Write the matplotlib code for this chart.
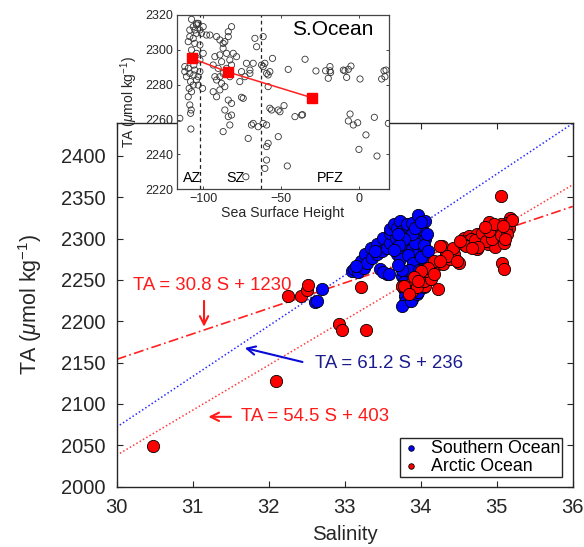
import matplotlib
matplotlib.use("Agg")
import matplotlib.pyplot as plt
import numpy as np

plt.rcParams['font.family'] = ['Liberation Sans', 'DejaVu Sans']
plt.rcParams['mathtext.fontset'] = 'custom'
plt.rcParams['mathtext.rm'] = 'Liberation Sans'
plt.rcParams['mathtext.it'] = 'Liberation Sans:italic'

# ------------------------------------------------------------
# 主图数据: 盐度 vs 总碱度
# ------------------------------------------------------------
so_sal = [32.61, 32.63, 32.70, 33.10, 33.12, 33.18, 33.21, 33.25,
          33.27, 33.30, 33.34, 33.36, 33.43, 33.43, 33.49, 33.51,
          33.56, 33.60, 33.60, 33.60, 33.65, 33.67, 33.69, 33.73,
          33.76, 33.82, 33.82, 33.89, 33.97, 33.95, 34.02, 34.06,
          34.06, 33.84, 33.80, 33.89, 33.95, 33.69, 33.73, 33.56,
          33.47, 33.51, 33.58, 33.76, 33.78, 33.78, 33.80, 33.80,
          33.76, 33.89, 33.87, 33.95, 33.97, 34.04, 34.02, 34.09,
          34.06, 34.04, 33.92, 33.88, 33.78, 33.72, 33.65, 33.83,
          33.90, 33.85, 33.98, 34.00, 34.05, 34.08, 34.10, 33.70,
          33.93, 34.00, 33.40, 33.15, 33.82, 33.90, 33.75, 33.70]
so_ta = [2223, 2225, 2239, 2261, 2263, 2259, 2273, 2265,
         2281, 2271, 2289, 2277, 2281, 2293, 2285, 2301,
         2289, 2295, 2307, 2311, 2317, 2301, 2313, 2321,
         2309, 2315, 2317, 2319, 2329, 2305, 2311, 2321,
         2299, 2297, 2289, 2287, 2281, 2281, 2275, 2257,
         2263, 2259, 2257, 2255, 2247, 2239, 2231, 2223,
         2219, 2227, 2225, 2233, 2235, 2241, 2255, 2267,
         2275, 2287, 2295, 2305, 2300, 2292, 2286, 2280,
         2270, 2262, 2262, 2278, 2292, 2305, 2285, 2305,
         2313, 2320, 2285, 2267, 2242, 2250, 2262, 2268]

ao_sal = [30.48, 32.10, 32.26, 32.42, 32.50, 32.52, 32.93, 32.97,
          33.28, 33.22, 33.76, 33.87, 34.00, 34.09, 34.06, 33.89,
          33.95, 34.04, 34.13, 34.23, 34.06, 34.19, 34.17, 34.30,
          34.39, 34.50, 34.33, 34.44, 34.28, 34.42, 34.35, 34.48,
          34.26, 34.09, 34.17, 34.00, 33.91, 33.78, 33.97, 34.57,
          34.63, 34.74, 34.88, 34.96, 35.05, 35.14, 34.83, 34.92,
          35.03, 34.68, 35.09, 35.07, 35.09, 35.05, 35.18, 35.14,
          34.79, 34.88, 34.70, 34.74, 35.01, 35.09, 35.16, 35.05,
          34.92, 34.83, 34.61, 34.26, 34.95, 35.00, 34.85, 34.78,
          35.12, 34.66, 35.20, 34.98, 35.10, 34.90, 34.55, 33.85,
          34.60, 34.72, 34.80, 34.86, 34.94, 35.02, 35.06, 35.13,
          34.76, 34.90, 34.97, 35.08, 34.67, 34.84, 35.11, 34.52]
ao_ta = [2049, 2128, 2230, 2230, 2238, 2244, 2197, 2189,
         2189, 2241, 2243, 2245, 2251, 2255, 2243, 2237,
         2241, 2249, 2251, 2239, 2261, 2267, 2273, 2269,
         2275, 2271, 2281, 2281, 2291, 2289, 2279, 2273,
         2273, 2265, 2257, 2261, 2253, 2243, 2249, 2301,
         2303, 2305, 2311, 2313, 2315, 2317, 2299, 2295,
         2299, 2293, 2307, 2271, 2263, 2351, 2325, 2319,
         2301, 2293, 2293, 2287, 2297, 2301, 2313, 2317,
         2315, 2309, 2297, 2291, 2305, 2308, 2303, 2296,
         2310, 2299, 2322, 2290, 2295, 2320, 2293, 2233,
         2291, 2298, 2307, 2297, 2300, 2312, 2304, 2306,
         2290, 2309, 2318, 2315, 2288, 2314, 2300, 2297]

# 拟合线: 斜率, 截距
fit_slope = [30.8, 61.2, 54.5]
fit_icpt = [1230, 236, 403]
fit_labels = ['TA = 30.8 S + 1230', 'TA = 61.2 S + 236', 'TA = 54.5 S + 403']

# ------------------------------------------------------------
# 插图数据: 海表高度 vs TA (南大洋)
# ------------------------------------------------------------
ssh = [-115.0, -107.9, -108.6, -107.7, -108.1, -109.6, -107.5, -109.0,
       -106.4, -108.1, -110.7, -108.6, -106.0, -104.3, -103.2, -105.4,
       -102.1, -111.8, -109.6, -100.4, -108.6, -106.4, -104.3, -103.2,
       -100.0, -97.9, -101.1, -104.3, -106.4, -108.6, -105.4, -102.1,
       -100.0, -107.5, -104.3, -102.1, -95.7, -105.4, -102.1, -109.6,
       -106.0, -111.8, -103.2, -107.5, -104.3,
       -91.4, -89.3, -86.1, -83.9, -81.8, -83.9, -87.2, -87.2,
       -89.3, -92.5, -85.0, -82.9, -81.8, -85.0, -87.2, -89.3,
       -91.4, -88.2, -86.1, -89.3, -93.6, -91.4, -83.9, -81.8,
       -86.1, -83.9, -81.8, -82.9, -87.2, -71.1, -72.6, -75.4,
       -74.3, -76.5, -73.2, -70.0, -70.0, -67.9, -72.2, -66.8,
       -65.7, -62.5, -61.5, -59.3, -57.2, -58.3, -57.2, -56.1,
       -69.0, -67.9, -64.7, -61.5, -59.3, -58.3, -59.3, -59.3,
       -60.4, -51.8, -51.8, -45.4, -61.5, -93.6, -83.9, -82.9,
       -90.4, -88.2, -80.7, -92.5, -78.6, -75.4,
       -50.7, -48.1, -46.0, -41.1, -36.8, -36.2, -34.6, -27.6,
       -21.4, -18.6, -18.6, -18.2, -19.7, -10.0, -9.0, -6.8,
       -5.1, -7.9, 0.7, -5.7, -6.8, -3.6, -0.8, 4.5,
       0.0, 9.9, 11.6, 18.9, 14.6, 16.1, 17.4, 16.7,
       -60.4, -55.5, -58.3]
ssh_ta = [2260.7, 2254.6, 2268.4, 2265.5, 2263.6, 2273.1, 2276.0, 2277.9,
          2279.8, 2281.8, 2284.6, 2286.5, 2285.6, 2282.7, 2284.6, 2288.4,
          2287.5, 2287.5, 2289.4, 2277.9, 2311.4, 2313.3, 2314.3, 2315.2,
          2313.3, 2308.5, 2309.5, 2309.5, 2306.6, 2307.6, 2303.7, 2302.8,
          2298.0, 2299.9, 2298.0, 2294.2, 2308.5, 2311.4, 2311.4, 2304.7,
          2291.3, 2290.4, 2279.8, 2317.5, 2315.2,
          2307.6, 2305.7, 2304.7, 2307.6, 2313.3, 2310.4, 2303.7, 2300.9,
          2297.1, 2296.1, 2298.0, 2294.2, 2291.3, 2289.4, 2286.5, 2284.6,
          2282.7, 2280.8, 2278.9, 2277.0, 2276.0, 2273.1, 2271.2, 2269.3,
          2265.5, 2261.7, 2262.6, 2256.9, 2253.1, 2249.2, 2227.2, 2272.8,
          2272.2, 2281.8, 2284.6, 2286.5, 2288.4, 2292.3, 2292.3, 2306.6,
          2301.8, 2291.3, 2290.4, 2286.5, 2287.5, 2278.9, 2266.5, 2265.5,
          2256.9, 2257.8, 2255.9, 2257.8, 2256.9, 2246.4, 2244.5, 2236.8,
          2232.0, 2265.5, 2250.2, 2288.8, 2307.6, 2291.3, 2287.5, 2284.6,
          2289.4, 2293.2, 2298.0, 2284.6, 2296.1, 2287.5,
          2264.5, 2268.0, 2233.4, 2261.7, 2262.6, 2262.8, 2294.6, 2287.9,
          2288.0, 2290.4, 2288.0, 2287.0, 2283.7, 2288.4, 2288.0, 2288.8,
          2290.7, 2284.2, 2283.3, 2263.2, 2259.2, 2256.9, 2258.2, 2251.2,
          2242.9, 2261.3, 2239.1, 2257.8, 2283.3, 2288.0, 2288.4, 2284.6,
          2292.3, 2295.1, 2285.6]

zone_ssh = [-107.4, -84.1, -30.4]     # 分区均值
zone_ta = [2295.2, 2287.3, 2272.6]
zone_bounds = [-102, -63]
zone_names = ['AZ', 'SZ', 'PFZ']

INK = '#262626'

fig = plt.figure(figsize=(5.84, 5.47), dpi=100)

# ---------------- 主图 ----------------
ax = fig.add_axes([0.1997, 0.1102, 0.781, 0.6654])
s_line = np.array([30, 36])
ax.plot(s_line, fit_slope[1] * s_line + fit_icpt[1], color='#2a2aff',
        linestyle=(0, (1, 1.5)), linewidth=1.1, zorder=1)
ax.plot(s_line, fit_slope[2] * s_line + fit_icpt[2], color='#ff3a3a',
        linestyle=(0, (1, 1.5)), linewidth=1.1, zorder=1)
ax.plot(s_line, fit_slope[0] * s_line + fit_icpt[0], color='#ff2020',
        linestyle=(0, (6, 2, 1, 2)), linewidth=1.2, zorder=1)

ax.scatter(so_sal, so_ta, s=78, c='#0000ff', edgecolors='black',
           linewidths=0.6, zorder=3, label='Southern Ocean')
ax.scatter(ao_sal, ao_ta, s=78, c='#ff0000', edgecolors='black',
           linewidths=0.6, zorder=4, label='Arctic Ocean')

ax.set_xlim(30, 36)
ax.set_ylim(2000, 2440)
ax.set_xticks(np.arange(30, 37, 1))
ax.set_yticks(np.arange(2000, 2401, 50))
ax.tick_params(direction='in', length=4, width=0.8, top=True, right=True,
               labelsize=14.5, pad=8, colors=INK)
for sp in ax.spines.values():
    sp.set_color(INK)
    sp.set_linewidth(1.0)
ax.set_xlabel('Salinity', fontsize=14.7, color=INK, labelpad=6)
ax.set_ylabel(r'TA ($\mu$mol kg$^{-1}$)', fontsize=15.5, color=INK, labelpad=12)

# 拟合方程标注
ax.text(30.22, 2243, fit_labels[0], color='#ff1a1a', fontsize=13.4,
        ha='left', va='center')
ax.annotate('', xy=(31.15, 2190), xytext=(31.15, 2228),
            arrowprops=dict(arrowstyle='->,head_length=0.6,head_width=0.3',
                            color='#ff1a1a', lw=1.5))
ax.text(32.61, 2148.5, fit_labels[1], color='#1c1c8f', fontsize=13.4,
        ha='left', va='center')
ax.annotate('', xy=(31.65, 2168.5), xytext=(32.48, 2150),
            arrowprops=dict(arrowstyle='->,head_length=0.6,head_width=0.3',
                            color='#0a0ad8', lw=1.5))
ax.text(31.63, 2084.5, fit_labels[2], color='#ff1a1a', fontsize=13.4,
        ha='left', va='center')
ax.annotate('', xy=(31.17, 2084.5), xytext=(31.54, 2084.5),
            arrowprops=dict(arrowstyle='->,head_length=0.6,head_width=0.3',
                            color='#ff1a1a', lw=1.5))

leg = ax.legend(loc='lower right', bbox_to_anchor=(0.977, 0.027),
                borderaxespad=0, fontsize=12.8, markerscale=0.45,
                handlelength=1.0, handletextpad=0.6, labelspacing=0.05,
                borderpad=0.12, fancybox=False, edgecolor=INK,
                framealpha=1)
leg.get_frame().set_linewidth(1.0)
for t in leg.get_texts():
    t.set_color('black')

# ---------------- 插图 ----------------
ins = fig.add_axes([0.3026, 0.6539, 0.364, 0.3187])
ins.set_facecolor('white')
ins.scatter(ssh, ssh_ta, s=20, facecolors='none', edgecolors='#333333',
            linewidths=0.6, zorder=2)
for xb in zone_bounds:
    ins.axvline(xb, color='#222222', linestyle=(0, (3, 2.5)), linewidth=0.9,
                zorder=1)
ins.plot(zone_ssh, zone_ta, color='#ff2020', linewidth=1.1, marker='s',
         markersize=6.5, markerfacecolor='#ff0000', markeredgecolor='#ff0000',
         zorder=3)
ins.set_xlim(-117, 19.5)
ins.set_ylim(2220, 2320)
ins.set_xticks([-100, -50, 0])
ins.set_yticks(np.arange(2220, 2321, 20))
ins.tick_params(direction='in', length=2.5, width=0.6, top=True, right=True,
                labelsize=9, pad=2.5, colors=INK)
for sp in ins.spines.values():
    sp.set_color('#444444')
    sp.set_linewidth(0.9)
ins.set_xlabel('Sea Surface Height', fontsize=10.2, color=INK, labelpad=1)
ins.set_ylabel(r'TA ($\mu$mol kg$^{-1}$)', fontsize=10, color=INK, labelpad=4)
ins.text(-43.2, 2311.4, 'S.Ocean', fontsize=15, color='black',
         ha='left', va='center')
for name, xt in zip(zone_names, [-113.2, -85.0, -27.2]):
    ins.text(xt, 2226.3, name, fontsize=10.3, color='black',
             ha='left', va='center')

fig.savefig('out.png', dpi=100)
